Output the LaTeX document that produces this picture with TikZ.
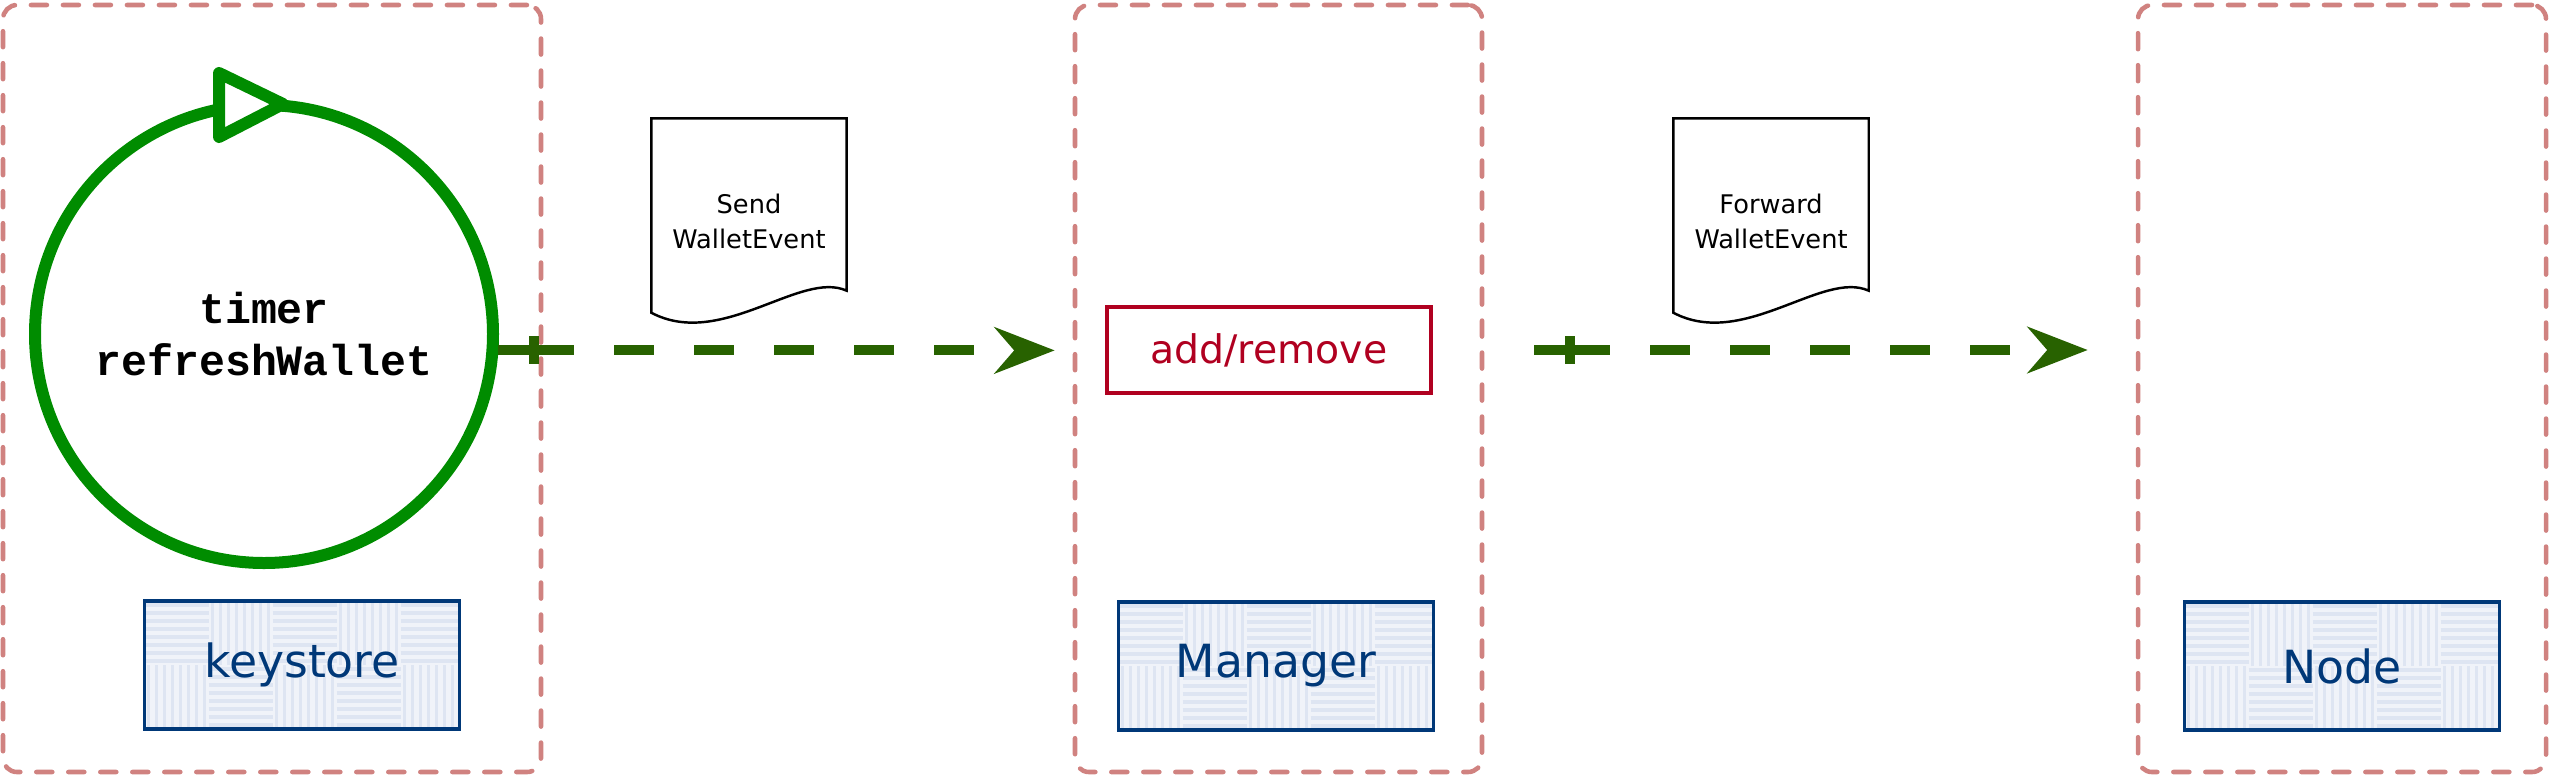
\documentclass[tikz,border=0pt]{standalone}
\usepackage{fontspec}
\usepackage{tikz}
\usetikzlibrary{positioning, arrows.meta, calc}
\newfontfamily\codefont{Liberation Mono}
\newfontfamily\notefont{DejaVu Sans}
\definecolor{lanered}{RGB}{208,130,128}
\definecolor{flowgreen}{RGB}{40,98,0}
\definecolor{timergreen}{RGB}{0,140,0}
\definecolor{opred}{RGB}{176,0,32}
\definecolor{compblue}{RGB}{0,56,120}
\definecolor{compfill}{RGB}{240,243,249}
\definecolor{compweave}{RGB}{222,229,242}
% outline of a document shape around a named node
\newcommand{\docoutline}[1]{%
  \draw[docline] (#1.north west) -- (#1.north east) -- ([yshift=0.33cm]#1.south east)
    .. controls ([xshift=-0.46cm,yshift=0.54cm]#1.south east) and ([xshift=0.7cm,yshift=-0.26cm]#1.south west)
    .. ([yshift=0.11cm]#1.south west) -- cycle;}
% basket weave fill of the component boxes
\newcommand{\weavefill}{%
  \foreach \i in {0,...,4}{%
    \foreach \j in {0,1}{%
      \pgfmathtruncatemacro{\weaveodd}{mod(\i+\j,2)}%
      \ifnum\weaveodd=0
        \foreach \k in {0,...,7}
          \draw[draw=compweave, fill=none, line width=0.035cm] ($(path picture bounding box.south west)+(\i*0.64+\k*0.08+0.04,\j*0.64)$) -- ++(0,0.64);
      \else
        \foreach \k in {0,...,7}
          \draw[draw=compweave, fill=none, line width=0.035cm] ($(path picture bounding box.south west)+(\i*0.64,\j*0.64+\k*0.08+0.04)$) -- ++(0.64,0);
      \fi
    }}}

\begin{document}
\begin{tikzpicture}[
		lane/.style={draw=lanered, line width=1.3pt, dash pattern=on 0.16cm off 0.16cm, line cap=round, rounded corners=4pt, minimum height=7.67cm, inner sep=0pt},
		timer/.style={circle, draw=timergreen, line width=0.12cm, minimum size=4.58cm, inner sep=0pt, align=center, font=\codefont\bfseries\fontsize{12.3}{14.8}\selectfont},
		loopmark/.style={draw=timergreen, line width=0.12cm, fill=white, line join=round},
		doc/.style={minimum width=1.94cm, minimum height=2.04cm, inner sep=0pt, align=center, font=\notefont\fontsize{7.3}{10}\selectfont},
		docline/.style={draw=black, line width=0.7pt},
		oprect/.style={draw=opred, line width=1.1pt, minimum width=3.24cm, minimum height=0.86cm, inner sep=0pt, text=opred, font=\notefont\fontsize{11.2}{13}\selectfont},
		comp/.style={draw=compblue, line width=1.1pt, fill=compfill, minimum width=3.15cm, minimum height=1.28cm, inner sep=0pt, text=compblue, font=\notefont\fontsize{13}{15}\selectfont, path picture={\weavefill}},
		flow/.style={draw=flowgreen, line width=0.1cm, dash pattern=on 0.76cm off 0.4cm on 0.4cm off 0.4cm on 0.4cm off 0.4cm on 0.4cm off 0.4cm on 0.4cm off 0.4cm on 0.4cm off 0.4cm, -{Stealth[length=0.6cm, width=0.46cm]}},
		flowbar/.style={draw=flowgreen, line width=0.1cm}
	]
		\useasboundingbox (0,0) rectangle (25.5,7.78);
		
		% Lanes
		\node[lane, minimum width=5.38cm] (kslane) at (2.72,3.895) {};
		\node[lane, minimum width=4.07cm] (mgrlane) at (12.785,3.895) {};
		\node[lane, minimum width=4.08cm] (nodelane) at (23.42,3.895) {};
		
		% Timer loop
		\node[timer] (timer) at (2.64,4.44) {timer\\refreshWallet};
		\draw[loopmark] ($(timer.center)+(-0.45,2.61)$) -- ++(0,-0.64) -- ($(timer.center)+(0.19,2.30)$) -- cycle;
		
		% Components
		\node[comp] (keystore) at (3.02,1.13) {keystore};
		\node[comp] (manager) at (12.76,1.12) {Manager};
		\node[comp] (nodebox) at (23.42,1.12) {Node};
		\node[oprect] (addrm) at (12.69,4.28) {add/remove};
		
		% Messages
		\node[doc] (send) at (7.49,5.57) {Send\\WalletEvent};
		\docoutline{send}
		\node[doc] (forward) at (17.71,5.57) {Forward\\WalletEvent};
		\docoutline{forward}
		
		% Flows
		\draw[flow] (timer.-4) -- ($(mgrlane.west |- timer.-4)+(-0.18,0)$);
		\draw[flowbar] ($(timer.-4)+(0.36,0.14)$) -- ++(0,-0.28);
		\draw[flow] ($(mgrlane.east |- addrm)+(0.5,0)$) -- ($(nodelane.west |- addrm)+(-0.48,0)$);
		\draw[flowbar] ($(mgrlane.east |- addrm)+(0.86,0.14)$) -- ++(0,-0.28);
		
	\end{tikzpicture}
\end{document}
